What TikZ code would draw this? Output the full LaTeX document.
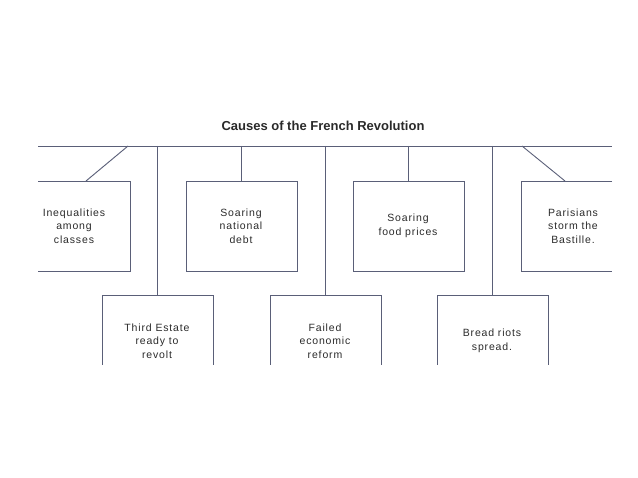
\documentclass[tikz,border=0pt]{standalone}
\usepackage{fontspec}
\setmainfont{Liberation Sans}
\newfontfamily\boxfont[LetterSpace=8]{Liberation Sans}
\definecolor{linec}{HTML}{5A5F78}
\definecolor{textc}{HTML}{2A2A2A}
\begin{document}
\begin{tikzpicture}[x=1pt, y=-1pt, line width=0.9pt,
  lbl/.style = {align=center, font=\boxfont\fontsize{10.5}{13.5}\selectfont, text=textc},
  edge/.style = {draw=linec}]
	\useasboundingbox (0,0) rectangle (638,478);
	\node [font=\bfseries\fontsize{13}{15}\selectfont, text=textc] (title) at (323,126) {Causes of the French Revolution};
	\coordinate (barL) at (38,146);
	\coordinate (barR) at (612,146);
	\draw [edge] (barL) -- (barR);
	% upper boxes
	\draw [edge] (38,181) -- (130,181) -- (130,271) -- (38,271);
	\draw [edge] (186,181) rectangle (297,271);
	\draw [edge] (353,181) rectangle (464,271);
	\draw [edge] (612,181) -- (521,181) -- (521,271) -- (612,271);
	% lower boxes
	\draw [edge] (102,365) -- (102,295) -- (213,295) -- (213,365);
	\draw [edge] (270,365) -- (270,295) -- (381,295) -- (381,365);
	\draw [edge] (437,365) -- (437,295) -- (548,295) -- (548,365);
	% labels
	\node [lbl] (a) at (74,226) {Inequalities\\among\\classes};
	\node [lbl] (b) at (241,226) {Soaring\\national\\debt};
	\node [lbl] (c) at (408,226) {Soaring\\food prices};
	\node [lbl] (d) at (573,226) {Parisians\\storm the\\Bastille.};
	\node [lbl] (e) at (157,341) {Third Estate\\ready to\\revolt};
	\node [lbl] (f) at (325,341) {Failed\\economic\\reform};
	\node [lbl] (g) at (492,341) {Bread riots\\spread.};
	% connectors
	\coordinate (ta) at (86,181); \coordinate (sa) at (128,146);
	\coordinate (td) at (565,181); \coordinate (sd) at (522,146);
	\draw [edge] (sa) -- (ta);
	\draw [edge] (sd) -- (td);
	\draw [edge] (157,146) -- (157,295);
	\draw [edge] (241,146) -- (241,181);
	\draw [edge] (325,146) -- (325,295);
	\draw [edge] (408,146) -- (408,181);
	\draw [edge] (492,146) -- (492,295);
\end{tikzpicture}
\end{document}
